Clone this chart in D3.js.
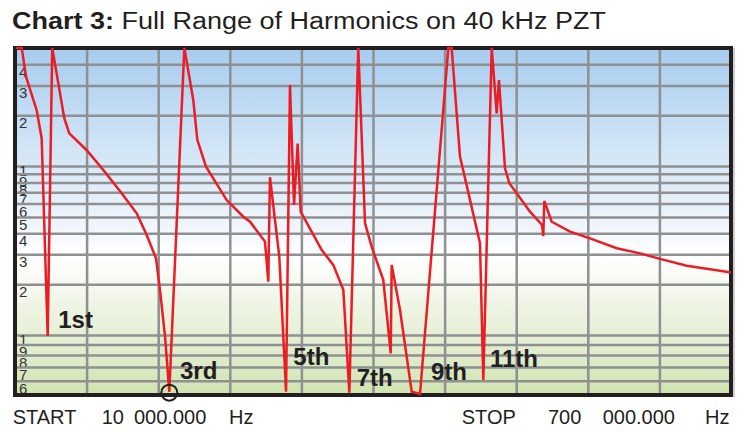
<!DOCTYPE html>
<html lang="en">
	<head>
		<meta charset="utf-8">
		<title>Chart 3: Full Range of Harmonics on 40 kHz PZT</title>
		<script src="https://d3js.org/d3.v7.min.js"></script>
		<style type="text/css">
			body { margin: 0; background: #fff; }
			text { font-family: "Liberation Sans", Arial, Helvetica, sans-serif; fill: #231f20; }
		</style>
	</head>
	<body>
		<script type="text/javascript">
			//Width and height
			let w = 754;
			let h = 432;
			//Plot frame
			let plotLeft = 15, plotTop = 48, plotW = 716, plotH = 347;

			//Sweep, Hz
			let startHz = 10000;
			let stopHz = 700000;

			//Trace
			let freq = [11000, 16500, 20600, 30900, 35700, 41500, 45900, 53400, 57500, 62300,
				79100, 95100, 112800, 127300, 136900, 145900, 149700, 154600, 158700, 173200,
				181800, 185700, 194100, 214000, 230000, 236500, 250900, 254100, 255700, 264700,
				271200, 275000, 278900, 282400, 285300, 305600, 316700, 326400, 332200, 340800,
				347300, 353700, 364900, 372100, 373000, 381000, 392300, 400300, 427600, 430800,
				438800, 458100, 461300, 469400, 474200, 476400, 482200, 486400, 506300, 517900,
				519100, 520100, 527200, 544900, 564100, 589900, 612300, 631600, 657300, 679800, 700000];
			let level = [50, 50, 33.8, 21.4, 14.6, 0.989, 50, 26.9, 19.2, 15.6,
				12.4, 9.47, 6.90, 5.25, 3.91, 2.84, 1.85, 0.981, 0.530, 50,
				24.6, 14.3, 9.91, 6.29, 5.01, 4.68, 3.57, 2.07, 8.58, 2.91,
				0.530, 30.2, 5.88, 13.6, 5.37, 3.18, 2.60, 1.85, 0.525, 50,
				4.60, 3.33, 2.12, 0.815, 2.60, 1.41, 0.530, 0.517, 50, 50,
				11.4, 3.49, 0.605, 50, 20.5, 32.3, 9.69, 7.90, 5.37, 4.48,
				3.85, 6.21, 4.68, 4.09, 3.73, 3.26, 3.04, 2.82, 2.57, 2.45, 2.34];

			//Grid ticks
			let xTicks = [79000, 148000, 217000, 286000, 355000, 424000, 493000, 562000, 631000];
			let yTicks = [40, 30, 20, 10, 9, 8, 7, 6, 5, 4, 3, 2, 1, 0.9, 0.8, 0.7, 0.6];
			let yTickLabels = ["4", "3", "2", "1", "9", "8", "7", "6", "5", "4", "3", "2", "1", "9", "8", "7", "6"];

			//Harmonic labels
			let harmonicNames = ["1st", "3rd", "5th", "7th", "9th", "11th"];
			let harmonicFreq = [51700, 169000, 278200, 339300, 410900, 467700];
			let harmonicLevel = [1.096, 0.610, 0.715, 0.567, 0.605, 0.702];

			//Marked minimum
			let markerFreq = 158700;
			let markerLevel = 0.525;

			let dataset = freq.map(function(f, i) { return [f, level[i]]; });

			//Create scale functions
			let xScale = d3.scaleLinear()
				.domain([startHz, stopHz])
				.range([plotLeft, plotLeft + plotW]);
			//the printed grid stretches its lowest decade, so the log scale has two pieces
			let yScale = d3.scaleLog()
				.domain([0.5113, 1, 50])
				.range([plotTop + plotH, 335, 47.9]);

			//Create SVG element
			let svg = d3.select("body")
				.append("svg")
				.attr("width", w)
				.attr("height", h);

			//Background gradient
			let grad = svg.append("defs")
				.append("linearGradient")
				.attr("id", "bg")
				.attr("x1", 0).attr("y1", 0)
				.attr("x2", 0).attr("y2", 1);
			[[0, "#a7ccee"], [0.3, "#d3e6f6"], [0.5, "#eef4fb"], [0.6, "#ffffff"],
			 [0.75, "#eef4e3"], [0.9, "#deebc9"], [1, "#cfe3ae"]].forEach(function(s) {
				grad.append("stop").attr("offset", s[0]).attr("stop-color", s[1]);
			});

			//Shadow and plot background
			svg.append("rect")
				.attr("x", plotLeft + 2).attr("y", plotTop)
				.attr("width", plotW + 2).attr("height", plotH + 2)
				.attr("fill", "#cfcfcf");
			svg.append("rect")
				.attr("x", plotLeft).attr("y", plotTop)
				.attr("width", plotW).attr("height", plotH)
				.attr("fill", "url(#bg)");

			//Vertical grid
			let xAxis = d3.axisBottom(xScale)
				.tickValues(xTicks)
				.tickSize(-plotH)
				.tickFormat("");
			svg.append("g")
				.attr("class", "x grid")
				.attr("transform", "translate(0," + (plotTop + plotH) + ")")
				.call(xAxis)
				.call(function(g) { g.select(".domain").remove(); });

			//Horizontal grid with the log labels inside the frame
			let yAxis = d3.axisLeft(yScale)
				.tickValues(yTicks)
				.tickSize(-plotW)
				.tickFormat(function(d, i) { return yTickLabels[i]; });
			let yG = svg.append("g")
				.attr("class", "y grid")
				.attr("transform", "translate(" + plotLeft + ",0)")
				.call(yAxis);
			yG.select(".domain").remove();
			yG.selectAll(".tick text")
				.attr("x", 4)
				.attr("dy", function(d) { return (d === 1 || d === 10) ? 9 : 12.5; })
				.attr("text-anchor", "start")
				.attr("font-size", 15)
				.style("font-size", "15px")
				.style("fill", "#333");

			svg.selectAll(".grid line")
				.attr("stroke", "#8f9092")
				.attr("stroke-width", 2.5);

			//Frame
			svg.append("rect")
				.attr("x", plotLeft).attr("y", plotTop)
				.attr("width", plotW).attr("height", plotH)
				.attr("fill", "none")
				.attr("stroke", "#231f20")
				.attr("stroke-width", 4);

			//Harmonic labels
			svg.append("g")
				.selectAll("text")
				.data(harmonicNames)
				.enter()
				.append("text")
				.attr("x", function(d, i) { return xScale(harmonicFreq[i]); })
				.attr("y", function(d, i) { return yScale(harmonicLevel[i]); })
				.style("font-size", "24px")
				.style("font-weight", "bold")
				.text(function(d) { return d; });

			//Trace
			let line = d3.line()
				.x(function(d) { return xScale(d[0]); })
				.y(function(d) { return yScale(d[1]); });
			svg.append("path")
				.datum(dataset)
				.attr("d", line)
				.attr("fill", "none")
				.attr("stroke", "#ed1c24")
				.attr("stroke-width", 2.5)
				.attr("stroke-linejoin", "miter")
				.attr("stroke-miterlimit", 2);

			//Marker circle
			svg.append("circle")
				.attr("cx", xScale(markerFreq))
				.attr("cy", yScale(markerLevel))
				.attr("r", 8)
				.attr("fill", "none")
				.attr("stroke", "#231f20")
				.attr("stroke-width", 2);

			//Title
			let title = svg.append("text")
				.attr("x", 12)
				.attr("y", 29)
				.attr("textLength", 594)
				.attr("lengthAdjust", "spacingAndGlyphs")
				.style("font-size", "23px");
			title.append("tspan").style("font-weight", "bold").text("Chart 3:");
			title.append("tspan").text(" Full Range of Harmonics on 40 kHz PZT");

			//Sweep limits
			let footer = [["START", 12.7], ["10", 101.7], ["000.000", 134], ["Hz", 229],
				["STOP", 461.7], ["700", 548], ["000.000", 602.7], ["Hz", 705]];
			svg.append("g")
				.selectAll("text")
				.data(footer)
				.enter()
				.append("text")
				.attr("x", function(d) { return d[1]; })
				.attr("y", 423.5)
				.style("font-size", "20px")
				.text(function(d) { return d[0]; });
		</script>
	</body>
</html>
